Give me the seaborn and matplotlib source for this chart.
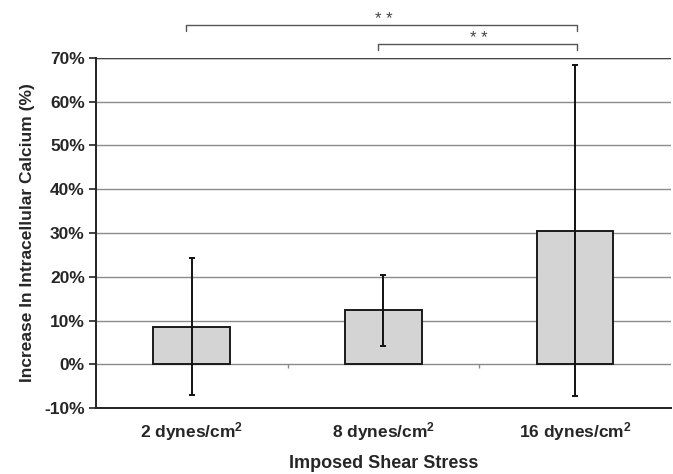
import pandas as pd
import matplotlib
matplotlib.use('Agg')
import matplotlib.pyplot as plt
import seaborn as sns

# --- Data ---
categories = ['2 dynes/cm$^2$', '8 dynes/cm$^2$', '16 dynes/cm$^2$']
mean_increase = [8.6, 12.4, 30.5]
err_increase = [15.7, 8.1, 37.8]
y_ticks = [-10, 0, 10, 20, 30, 40, 50, 60, 70]

# significance brackets: (left category index, right category index, level)
brackets = [(0, 2, 77.6), (1, 2, 73.2)]

sns.set_style('white')
plt.rcParams['font.family'] = ['Liberation Sans', 'DejaVu Sans']
plt.rcParams['mathtext.default'] = 'regular'

df = pd.DataFrame({'cond': categories, 'val': mean_increase})

fig = plt.figure(figsize=(6.73, 4.74), dpi=100)
ax = fig.add_axes([0.1426, 0.139, 0.854, 0.739])

sns.barplot(data=df, x='cond', y='val', ax=ax, color='#d4d4d4',
            edgecolor='#1a1a1a', linewidth=1.4, width=0.4,
            saturation=1, errorbar=None, zorder=3)

ax.errorbar(range(len(categories)), mean_increase, yerr=err_increase,
            fmt='none', ecolor='#111111', elinewidth=1.4, capsize=2.2,
            capthick=1.4, zorder=4)

# gridlines at every 10 %
for t in y_ticks[1:]:
    ax.axhline(t, color='#8a8a8a', linewidth=1.0, zorder=1)
ax.axhline(70, color='#444444', linewidth=1.0, zorder=1)

# small category separators on the zero line
ax.vlines([0.5, 1.5], -0.9, 0, color='#8a8a8a', linewidth=1.0, zorder=2)

ax.set_xlim(-0.5, 2.5)
ax.set_ylim(-10, 70)
ax.set_yticks(y_ticks)
ax.set_yticklabels([f'{t}%' for t in y_ticks], fontsize=12.5, fontweight='bold')
ax.tick_params(axis='y', which='major', left=True, length=5, width=1.2,
               color='#222222', pad=3)
ax.tick_params(axis='x', bottom=False, pad=5, labelsize=12.5)
for lbl in ax.get_xticklabels():
    lbl.set_fontweight('bold')

for side in ['top', 'right']:
    ax.spines[side].set_visible(False)
for side in ['left', 'bottom']:
    ax.spines[side].set_color('#222222')
    ax.spines[side].set_linewidth(1.4)

ax.set_xlabel('Imposed Shear Stress', fontsize=13, fontweight='bold', labelpad=9)
ax.set_ylabel('Increase In Intracellular Calcium (%)', fontsize=12.5,
              fontweight='bold', labelpad=7)

# significance brackets above the plot
for left, right, level in brackets:
    ax.plot([left - 0.03, left - 0.03, right + 0.01, right + 0.01],
            [level - 1.4, level, level, level - 1.4],
            color='#555555', linewidth=1.0, clip_on=False)
    ax.text((left + right) / 2, level - 0.6, '* *', ha='center', va='bottom',
            fontsize=12, color='#444444', clip_on=False)

fig.savefig('out.png', dpi=100)
